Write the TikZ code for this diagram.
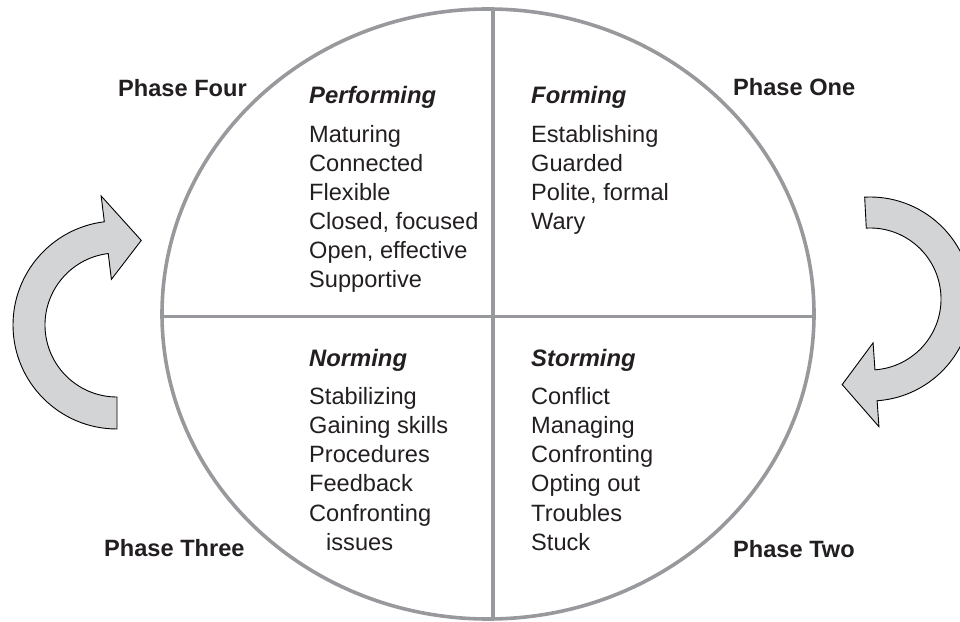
\documentclass[tikz,border=0pt]{standalone}
\usepackage{fontspec}
\setmainfont{Liberation Sans}
\usetikzlibrary{shapes.geometric}
\begin{document}
\begin{tikzpicture}[x=1pt,y=1pt,
  txt/.style={inner sep=0pt, anchor=base west, text=ink, font=\fontsize{23.6}{28}\selectfont},
  heading/.style={txt, font=\fontsize{23.8}{28}\selectfont\bfseries\itshape},
  phase/.style={txt, font=\fontsize{23.6}{28}\selectfont\bfseries},
  ring/.style={draw=ringgray, line width=3.6pt},
  turn/.style={draw=black, line width=0.9pt, fill=arrowfill, line join=miter}]
\definecolor{ink}{HTML}{231F20}
\definecolor{ringgray}{HTML}{98999C}
\definecolor{arrowfill}{HTML}{D3D4D6}
\useasboundingbox (0,0) rectangle (960,621);

% the four-quadrant wheel
\node[ring, ellipse, minimum width=652pt, minimum height=610pt, inner sep=0pt] (wheel) at (488,307) {};
\coordinate (vtop) at (493,612);
\coordinate (vbot) at (493,2);
\coordinate (hleft) at (wheel.west |- 0,304.5);
\coordinate (hright) at (wheel.east |- 0,304.5);
\draw[ring] (vtop) -- (vbot);
\draw[ring] (hleft) -- (hright);

% curved arrow on the left (clockwise, pointing up-right)
\begin{scope}[shift={(117,296)}]
  \draw[turn] (270:104) arc[start angle=270, end angle=97, radius=104]
    -- (97:130) -- (74:88) -- (97:46) -- (97:72)
    arc[start angle=97, end angle=270, radius=72] -- cycle;
\end{scope}

% curved arrow on the right (clockwise, pointing down-left)
\begin{scope}
  \clip (0,0) rectangle (960,621);
  \begin{scope}[shift={(870,322)}]
    \draw[turn] (93:102) arc[start angle=93, end angle=-86, radius=102]
      -- (-86:128) -- (-108:90) -- (-86:44) -- (-86:71)
      arc[start angle=-86, end angle=93, radius=71] -- cycle;
  \end{scope}
\end{scope}

% phase labels
\node[phase] (ph4) at (118,524) {Phase Four};
\node[phase] (ph1) at (733,525) {Phase One};
\node[phase] (ph3) at (104,65) {Phase Three};
\node[phase] (ph2) at (733,64) {Phase Two};

% quadrant headings
\node[heading] (perf) at (309,517) {Performing};
\node[heading] (form) at (531,517) {Forming};
\node[heading] (norm) at (309,254) {Norming};
\node[heading] (storm) at (531,254) {Storming};

% quadrant lists
\foreach \t [count=\i] in {Maturing, Connected, Flexible, {Closed, focused}, {Open, effective}, Supportive}
  \node[txt] (perf-\i) at (309,{478-29*(\i-1)}) {\t};
\foreach \t [count=\i] in {Establishing, Guarded, {Polite, formal}, Wary}
  \node[txt] (form-\i) at (531,{478-29*(\i-1)}) {\t};
\foreach \t [count=\i] in {Stabilizing, Gaining skills, Procedures, Feedback, Confronting}
  \node[txt] (norm-\i) at (309,{216-29*(\i-1)}) {\t};
\node[txt] (norm-6) at (326,71) {issues};
\foreach \t [count=\i] in {Conflict, Managing, Confronting, Opting out, Troubles, Stuck}
  \node[txt] (storm-\i) at (531,{216-29*(\i-1)}) {\t};
\end{tikzpicture}
\end{document}
